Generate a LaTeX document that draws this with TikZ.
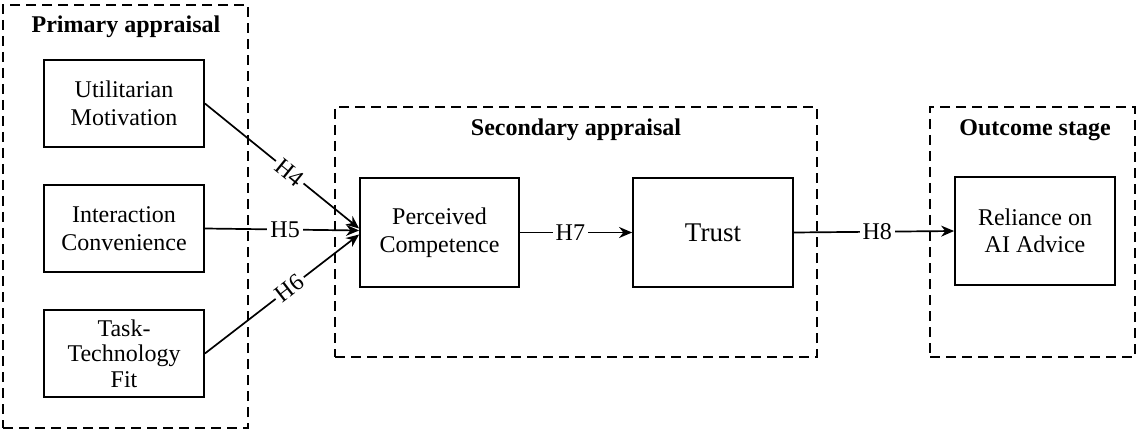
\documentclass[tikz,border=0pt]{standalone}
\usepackage{fontspec}
\setmainfont{Liberation Serif}
\usetikzlibrary{arrows.meta}
\begin{document}
\begin{tikzpicture}[x=1pt,y=-1pt,
  box/.style={draw, line width=1.8pt, minimum width=160pt, minimum height=87pt, align=center, inner sep=0pt, font=\fontsize{24}{27.5}\selectfont},
  bigbox/.style={box, minimum height=109pt},
  stage/.style={draw, line width=1.7pt, dash pattern=on 10pt off 6pt, inner sep=0pt},
  ttl/.style={font=\bfseries\fontsize{24}{27}\selectfont, inner sep=0pt},
  lab/.style={fill=white, inner sep=3pt, font=\fontsize{24}{27}\selectfont},
  arr/.style={-{Stealth[length=13pt,width=11pt]}, line width=1.7pt}]
\useasboundingbox (0,0) rectangle (1139,430);
% stages
\node[stage, minimum width=245pt, minimum height=423pt] (pa) at (125.5,216.5) {};
\node[stage, minimum width=482pt, minimum height=250pt] (sa) at (576,232) {};
\node[stage, minimum width=205pt, minimum height=250pt] (os) at (1032.5,232) {};
\node[ttl] (pat) at (126,27) {Primary appraisal};
\node[ttl] (sat) at (576,130) {Secondary appraisal};
\node[ttl] (ost) at (1035,130) {Outcome stage};
% boxes
\node[box] (um) at (124,103.5) {Utilitarian\\Motivation};
\node[box] (ic) at (124,228.5) {Interaction\\Convenience};
\node[box, font=\fontsize{24}{25.5}\selectfont] (ttf) at (124,353.5) {Task-\\Technology\\Fit};
\node[bigbox, minimum width=159pt] (pc) at (439.5,232.5) {Perceived\\Competence};
\node[bigbox, font=\fontsize{27}{30}\selectfont] (tr) at (713,232.5) {Trust};
\node[bigbox, minimum height=108pt] (ra) at (1035,231) {Reliance on\\AI Advice};
% arrows
\draw[arr] (um.east) -- node[lab, sloped, pos=0.55] {H4} ([yshift=4pt]pc.west);
\draw[arr] (ic.east) -- node[lab, pos=0.52] {H5} ([yshift=2pt]pc.west);
\draw[arr] (ttf.east) -- node[lab, sloped, pos=0.55] {H6} ([yshift=-2pt]pc.west);
\draw[arr] (pc.east) -- node[lab, pos=0.45] {H7} (tr.west);
\draw[arr] (tr.east) -- node[lab, pos=0.52] {H8} (ra.west);
\end{tikzpicture}
\end{document}
